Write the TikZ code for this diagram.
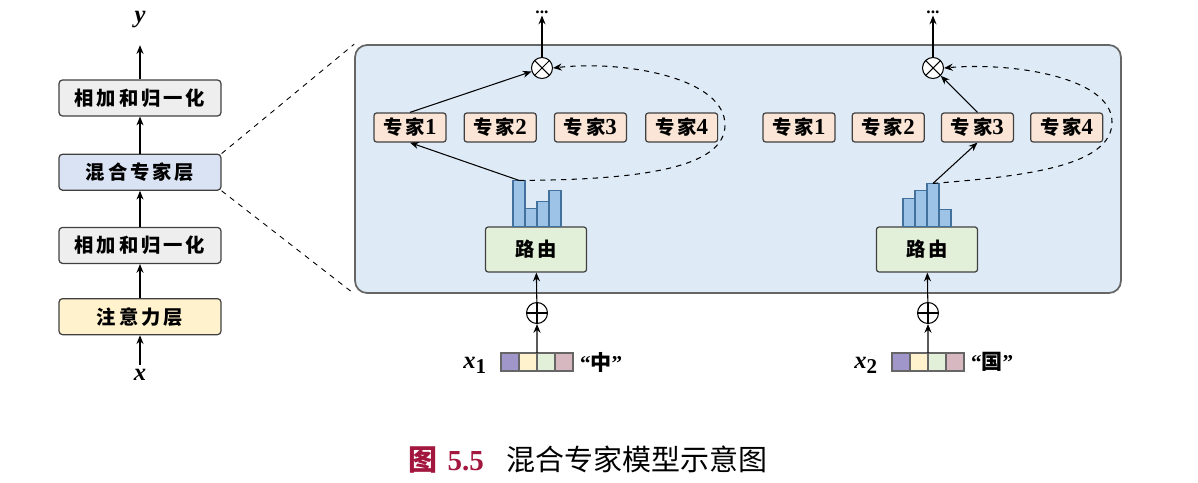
\documentclass[tikz,border=0pt]{standalone}
\usepackage{fontspec}
\setmainfont{Liberation Serif}
\newfontfamily\cjk[LetterSpace=15]{Noto Sans CJK SC}
\newfontfamily\cjkcap{Noto Sans CJK SC}
\usetikzlibrary{arrows.meta,positioning}

\definecolor{normfill}{HTML}{EEEEEE}
\definecolor{moefill}{HTML}{DAE3F3}
\definecolor{attfill}{HTML}{FFF2CC}
\definecolor{panelfill}{HTML}{DEEBF7}
\definecolor{expertfill}{HTML}{FBE5D6}
\definecolor{routerfill}{HTML}{E2F0D9}
\definecolor{barfill}{HTML}{9DC3E6}
\definecolor{barline}{HTML}{41719C}
\definecolor{vecA}{HTML}{A096C9}
\definecolor{vecB}{HTML}{FFF2CC}
\definecolor{vecC}{HTML}{E2F0D9}
\definecolor{vecD}{HTML}{D8B8C0}
\definecolor{capred}{HTML}{A3173F}

\tikzset{
    arr/.style={-{Stealth[length=5pt,width=4pt]}, line width=0.6pt},
    zoomline/.style={dashed, line width=0.5pt},
    layer/.style={draw=black!75, rounded corners=2pt, line width=0.7pt, minimum width=3.24cm, minimum height=0.72cm, inner sep=0pt,
        font=\fontsize{11}{13}\selectfont\cjk\bfseries},
    expert/.style={draw=black!75, fill=expertfill, rounded corners=1.5pt, line width=0.7pt, minimum width=1.44cm, minimum height=0.58cm, inner sep=0pt,
        font=\fontsize{11}{13}\selectfont\cjk\bfseries},
    router/.style={draw=black!75, fill=routerfill, rounded corners=1.5pt, line width=0.7pt, minimum width=2.02cm, minimum height=0.9cm, inner sep=0pt,
        font=\fontsize{11}{13}\selectfont\cjk\bfseries},
    panel/.style={draw=black!60, fill=panelfill, rounded corners=0.24cm, line width=1pt, minimum width=15.32cm, minimum height=4.96cm},
    bar/.style={draw=barline, fill=barfill, line width=0.6pt, inner sep=0pt, outer sep=0pt, minimum width=0.24cm, anchor=south west},
    cell/.style={draw=black!60, line width=0.6pt, inner sep=0pt, outer sep=0pt, minimum size=0.36cm},
    otimes/.style={draw, circle, fill=white, line width=0.6pt, minimum size=0.42cm, inner sep=0pt,
        path picture={\draw (path picture bounding box.north west) -- (path picture bounding box.south east)
            (path picture bounding box.north east) -- (path picture bounding box.south west);}},
    oplus/.style={draw, circle, line width=0.6pt, minimum size=0.42cm, inner sep=0pt,
        path picture={\draw (path picture bounding box.north) -- (path picture bounding box.south)
            (path picture bounding box.east) -- (path picture bounding box.west);}},
    var/.style={inner sep=2pt, font=\fontsize{14}{16}\selectfont\bfseries\itshape},
    dots/.style={inner sep=1pt, font=\fontsize{10}{12}\selectfont\bfseries},
    word/.style={inner sep=1pt, font=\fontsize{12}{14}\selectfont\bfseries},
}
\newcommand{\num}[1]{{\rmfamily\fontsize{13}{13}\selectfont #1}}

\begin{document}
\begin{tikzpicture}[x=0.02cm, y=-0.02cm]
    \useasboundingbox (0,0) rectangle (1198,483);

    % left column: one transformer block
    \node[var] (ly) at (140,20) {y};
    \node[layer, fill=normfill] (lnorm2) at (140,98) {相加和归一化};
    \node[layer, fill=moefill, below=0.74cm of lnorm2] (lmoe) {混合专家层};
    \node[layer, fill=normfill, below=0.72cm of lmoe] (lnorm1) {相加和归一化};
    \node[layer, fill=attfill, below=0.68cm of lnorm1] (latt) {注意力层};
    \node[var] (lx) at (140,375) {x};
    \draw[arr] (lx) -- (latt);
    \draw[arr] (latt) -- (lnorm1);
    \draw[arr] (lnorm1) -- (lmoe);
    \draw[arr] (lmoe) -- (lnorm2);
    \draw[arr, shorten >=0.26cm] (lnorm2) -- (ly);

    % zoomed panel
    \node[panel] (pan) at (738,169) {};
    \draw[zoomline] (lmoe.north east) -- (pan.north west);
    \draw[zoomline] (lmoe.south east) -- (pan.south west);

    % token 1
    \node[dots] (adots) at (542,12) {...};
    \node[otimes] (aout) at (542,68) {};
    \node[expert] (ae1) at (410,127.5) {专家\num{1}};
    \node[expert, right=0.34cm of ae1] (ae2) {专家\num{2}};
    \node[expert, right=0.34cm of ae2] (ae3) {专家\num{3}};
    \node[expert, right=0.36cm of ae3] (ae4) {专家\num{4}};
    \node[router] (arout) at (536,249.5) {路由};
    \node[bar, minimum height=0.92cm] (ab1) at ([xshift=-0.46cm]arout.north) {};
    \node[bar, minimum height=0.36cm] (ab2) at (ab1.south east) {};
    \node[bar, minimum height=0.5cm] (ab3) at (ab2.south east) {};
    \node[bar, minimum height=0.72cm] (ab4) at (ab3.south east) {};
    \node[oplus] (aplus) at (537,313) {};
    \node[cell, fill=vecA] (av1) at (510,362) {};
    \node[cell, fill=vecB, right=0pt of av1] (av2) {};
    \node[cell, fill=vecC, right=0pt of av2] (av3) {};
    \node[cell, fill=vecD, right=0pt of av3] (av4) {};
    \node[var, left=0.22cm of av1, yshift=-2pt] (ax) {x\raisebox{-0.45ex}{\fontsize{12}{13}\selectfont\upshape 1}};
    \node[word, right=0.1cm of av4] (aword) {“{\cjk 中}”};

    \draw[arr] (aout) -- (adots);
    \draw[arr] (ab1.north) -- (ae1.south);
    \draw[arr] (ae1.north) -- (aout);
    \draw[arr, dashed] (ab1.north) .. controls (640,180) and (725,168) .. (725,125)
        .. controls (725,78) and (625,60) .. (aout.east);
    \draw[arr] (av2.north east) -- (aplus);
    \draw[arr] (aplus) -- (arout);

    % token 2
    \node[dots] (bdots) at (933,12) {...};
    \node[otimes] (bout) at (933,68) {};
    \node[expert] (be1) at (799,127.5) {专家\num{1}};
    \node[expert, right=0.32cm of be1] (be2) {专家\num{2}};
    \node[expert, right=0.32cm of be2] (be3) {专家\num{3}};
    \node[expert, right=0.32cm of be3] (be4) {专家\num{4}};
    \node[router] (brout) at (927,249.5) {路由};
    \node[bar, minimum height=0.56cm] (bb1) at ([xshift=-0.48cm]brout.north) {};
    \node[bar, minimum height=0.72cm] (bb2) at (bb1.south east) {};
    \node[bar, minimum height=0.86cm] (bb3) at (bb2.south east) {};
    \node[bar, minimum height=0.34cm] (bb4) at (bb3.south east) {};
    \node[oplus] (bplus) at (928,313) {};
    \node[cell, fill=vecA] (bv1) at (901,362) {};
    \node[cell, fill=vecB, right=0pt of bv1] (bv2) {};
    \node[cell, fill=vecC, right=0pt of bv2] (bv3) {};
    \node[cell, fill=vecD, right=0pt of bv3] (bv4) {};
    \node[var, left=0.22cm of bv1, yshift=-2pt] (bx) {x\raisebox{-0.45ex}{\fontsize{12}{13}\selectfont\upshape 2}};
    \node[word, right=0.1cm of bv4] (bword) {“{\cjk 国}”};

    \draw[arr] (bout) -- (bdots);
    \draw[arr] (bb3.north) -- (be3.south);
    \draw[arr] (be3.north) -- (bout);
    \draw[arr, dashed] (bb3.north) .. controls (1030,176) and (1112,165) .. (1112,122)
        .. controls (1112,78) and (1015,62) .. (bout.east);
    \draw[arr] (bv2.north east) -- (bplus);
    \draw[arr] (bplus) -- (brout);

    % caption
    \node[font=\fontsize{16.5}{19}\selectfont] (cap) at (588,460)
        {{\color{capred}\cjkcap\bfseries 图\hspace{0.2cm}\rmfamily 5.5}\hspace{0.45cm}\cjkcap 混合专家模型示意图};
\end{tikzpicture}
\end{document}
